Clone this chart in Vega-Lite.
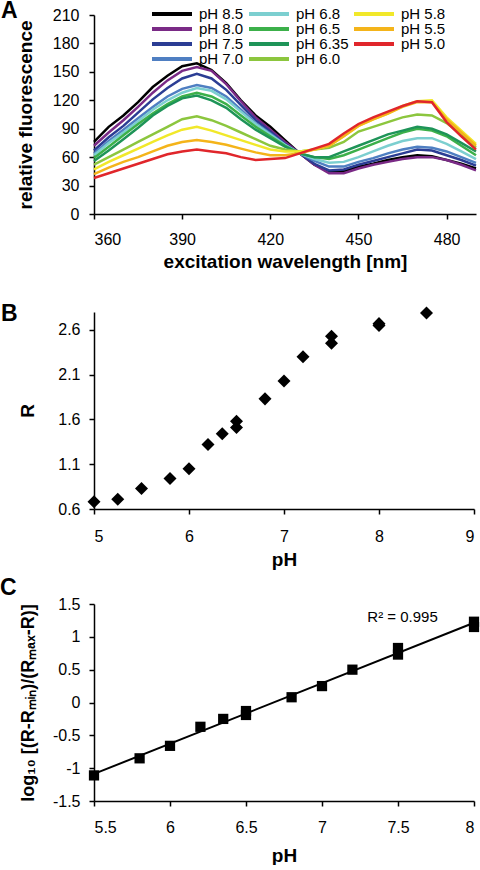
{
"$schema": "https://vega.github.io/schema/vega-lite/v6.json",
"padding": {"left": 0, "top": 0, "right": 0, "bottom": 0},
"background": "white",
"spacing": 32,
"config": {
  "view": {"stroke": null},
  "font": "Liberation Sans",
  "axis": {"grid": false, "labelOverlap": false, "domainColor": "#000", "domainWidth": 1.5, "tickColor": "#000", "tickWidth": 1.5, "tickSize": 5, "labelColor": "#000", "labelFont": "Liberation Sans", "labelFontSize": 16, "titleFont": "Liberation Sans", "titleFontSize": 19, "titleFontWeight": "bold", "titleColor": "#000", "labelPadding": 9},
  "title": {"font": "Liberation Sans", "fontSize": 23, "fontWeight": "bold", "anchor": "start", "frame": "group", "color": "#000"}
},
"vconcat": [
{
  "width": 382, "height": 199,
  "title": {"text": "A", "dx": -93, "offset": -16},
  "data": {"values": [
{"s":"pH 8.5","nm":360,"f":76},{"s":"pH 8.5","nm":365,"f":92},{"s":"pH 8.5","nm":370,"f":104},{"s":"pH 8.5","nm":375,"f":118},{"s":"pH 8.5","nm":380,"f":134},{"s":"pH 8.5","nm":385,"f":146},{"s":"pH 8.5","nm":390,"f":156},{"s":"pH 8.5","nm":395,"f":159},{"s":"pH 8.5","nm":400,"f":152},{"s":"pH 8.5","nm":405,"f":138},{"s":"pH 8.5","nm":410,"f":120},{"s":"pH 8.5","nm":415,"f":104},{"s":"pH 8.5","nm":420,"f":92},{"s":"pH 8.5","nm":425,"f":78},{"s":"pH 8.5","nm":430,"f":64},{"s":"pH 8.5","nm":435,"f":52},{"s":"pH 8.5","nm":440,"f":45},{"s":"pH 8.5","nm":445,"f":45},{"s":"pH 8.5","nm":450,"f":50},{"s":"pH 8.5","nm":455,"f":53},{"s":"pH 8.5","nm":460,"f":57},{"s":"pH 8.5","nm":465,"f":60},{"s":"pH 8.5","nm":470,"f":62},{"s":"pH 8.5","nm":475,"f":61},{"s":"pH 8.5","nm":480,"f":57},{"s":"pH 8.5","nm":485,"f":53},{"s":"pH 8.5","nm":490,"f":48},
{"s":"pH 8.0","nm":360,"f":72},{"s":"pH 8.0","nm":365,"f":86},{"s":"pH 8.0","nm":370,"f":99},{"s":"pH 8.0","nm":375,"f":113},{"s":"pH 8.0","nm":380,"f":128},{"s":"pH 8.0","nm":385,"f":141},{"s":"pH 8.0","nm":390,"f":151},{"s":"pH 8.0","nm":395,"f":155},{"s":"pH 8.0","nm":400,"f":151},{"s":"pH 8.0","nm":405,"f":137},{"s":"pH 8.0","nm":410,"f":119},{"s":"pH 8.0","nm":415,"f":102},{"s":"pH 8.0","nm":420,"f":89},{"s":"pH 8.0","nm":425,"f":76},{"s":"pH 8.0","nm":430,"f":64},{"s":"pH 8.0","nm":435,"f":52},{"s":"pH 8.0","nm":440,"f":43},{"s":"pH 8.0","nm":445,"f":43},{"s":"pH 8.0","nm":450,"f":48},{"s":"pH 8.0","nm":455,"f":52},{"s":"pH 8.0","nm":460,"f":55},{"s":"pH 8.0","nm":465,"f":58},{"s":"pH 8.0","nm":470,"f":60},{"s":"pH 8.0","nm":475,"f":60},{"s":"pH 8.0","nm":480,"f":57},{"s":"pH 8.0","nm":485,"f":52},{"s":"pH 8.0","nm":490,"f":46},
{"s":"pH 7.5","nm":360,"f":67},{"s":"pH 7.5","nm":365,"f":81},{"s":"pH 7.5","nm":370,"f":93},{"s":"pH 7.5","nm":375,"f":107},{"s":"pH 7.5","nm":380,"f":121},{"s":"pH 7.5","nm":385,"f":133},{"s":"pH 7.5","nm":390,"f":143},{"s":"pH 7.5","nm":395,"f":148},{"s":"pH 7.5","nm":400,"f":143},{"s":"pH 7.5","nm":405,"f":131},{"s":"pH 7.5","nm":410,"f":115},{"s":"pH 7.5","nm":415,"f":99},{"s":"pH 7.5","nm":420,"f":87},{"s":"pH 7.5","nm":425,"f":74},{"s":"pH 7.5","nm":430,"f":64},{"s":"pH 7.5","nm":435,"f":53},{"s":"pH 7.5","nm":440,"f":46},{"s":"pH 7.5","nm":445,"f":47},{"s":"pH 7.5","nm":450,"f":52},{"s":"pH 7.5","nm":455,"f":56},{"s":"pH 7.5","nm":460,"f":60},{"s":"pH 7.5","nm":465,"f":64},{"s":"pH 7.5","nm":470,"f":68},{"s":"pH 7.5","nm":475,"f":67},{"s":"pH 7.5","nm":480,"f":62},{"s":"pH 7.5","nm":485,"f":57},{"s":"pH 7.5","nm":490,"f":51},
{"s":"pH 7.0","nm":360,"f":64},{"s":"pH 7.0","nm":365,"f":77},{"s":"pH 7.0","nm":370,"f":89},{"s":"pH 7.0","nm":375,"f":101},{"s":"pH 7.0","nm":380,"f":113},{"s":"pH 7.0","nm":385,"f":124},{"s":"pH 7.0","nm":390,"f":132},{"s":"pH 7.0","nm":395,"f":136},{"s":"pH 7.0","nm":400,"f":133},{"s":"pH 7.0","nm":405,"f":124},{"s":"pH 7.0","nm":410,"f":110},{"s":"pH 7.0","nm":415,"f":96},{"s":"pH 7.0","nm":420,"f":85},{"s":"pH 7.0","nm":425,"f":73},{"s":"pH 7.0","nm":430,"f":64},{"s":"pH 7.0","nm":435,"f":56},{"s":"pH 7.0","nm":440,"f":50},{"s":"pH 7.0","nm":445,"f":50},{"s":"pH 7.0","nm":450,"f":55},{"s":"pH 7.0","nm":455,"f":59},{"s":"pH 7.0","nm":460,"f":64},{"s":"pH 7.0","nm":465,"f":68},{"s":"pH 7.0","nm":470,"f":71},{"s":"pH 7.0","nm":475,"f":70},{"s":"pH 7.0","nm":480,"f":66},{"s":"pH 7.0","nm":485,"f":60},{"s":"pH 7.0","nm":490,"f":54},
{"s":"pH 6.8","nm":360,"f":62},{"s":"pH 6.8","nm":365,"f":75},{"s":"pH 6.8","nm":370,"f":86},{"s":"pH 6.8","nm":375,"f":98},{"s":"pH 6.8","nm":380,"f":110},{"s":"pH 6.8","nm":385,"f":120},{"s":"pH 6.8","nm":390,"f":128},{"s":"pH 6.8","nm":395,"f":133},{"s":"pH 6.8","nm":400,"f":130},{"s":"pH 6.8","nm":405,"f":121},{"s":"pH 6.8","nm":410,"f":108},{"s":"pH 6.8","nm":415,"f":95},{"s":"pH 6.8","nm":420,"f":84},{"s":"pH 6.8","nm":425,"f":73},{"s":"pH 6.8","nm":430,"f":64},{"s":"pH 6.8","nm":435,"f":58},{"s":"pH 6.8","nm":440,"f":54},{"s":"pH 6.8","nm":445,"f":55},{"s":"pH 6.8","nm":450,"f":60},{"s":"pH 6.8","nm":455,"f":66},{"s":"pH 6.8","nm":460,"f":72},{"s":"pH 6.8","nm":465,"f":77},{"s":"pH 6.8","nm":470,"f":80},{"s":"pH 6.8","nm":475,"f":80},{"s":"pH 6.8","nm":480,"f":74},{"s":"pH 6.8","nm":485,"f":66},{"s":"pH 6.8","nm":490,"f":58},
{"s":"pH 6.5","nm":360,"f":59},{"s":"pH 6.5","nm":365,"f":71},{"s":"pH 6.5","nm":370,"f":83},{"s":"pH 6.5","nm":375,"f":95},{"s":"pH 6.5","nm":380,"f":106},{"s":"pH 6.5","nm":385,"f":116},{"s":"pH 6.5","nm":390,"f":124},{"s":"pH 6.5","nm":395,"f":128},{"s":"pH 6.5","nm":400,"f":124},{"s":"pH 6.5","nm":405,"f":116},{"s":"pH 6.5","nm":410,"f":104},{"s":"pH 6.5","nm":415,"f":92},{"s":"pH 6.5","nm":420,"f":82},{"s":"pH 6.5","nm":425,"f":72},{"s":"pH 6.5","nm":430,"f":64},{"s":"pH 6.5","nm":435,"f":60},{"s":"pH 6.5","nm":440,"f":58},{"s":"pH 6.5","nm":445,"f":62},{"s":"pH 6.5","nm":450,"f":68},{"s":"pH 6.5","nm":455,"f":74},{"s":"pH 6.5","nm":460,"f":80},{"s":"pH 6.5","nm":465,"f":86},{"s":"pH 6.5","nm":470,"f":90},{"s":"pH 6.5","nm":475,"f":88},{"s":"pH 6.5","nm":480,"f":82},{"s":"pH 6.5","nm":485,"f":72},{"s":"pH 6.5","nm":490,"f":62},
{"s":"pH 6.35","nm":360,"f":56},{"s":"pH 6.35","nm":365,"f":67},{"s":"pH 6.35","nm":370,"f":79},{"s":"pH 6.35","nm":375,"f":91},{"s":"pH 6.35","nm":380,"f":104},{"s":"pH 6.35","nm":385,"f":114},{"s":"pH 6.35","nm":390,"f":122},{"s":"pH 6.35","nm":395,"f":125},{"s":"pH 6.35","nm":400,"f":120},{"s":"pH 6.35","nm":405,"f":112},{"s":"pH 6.35","nm":410,"f":100},{"s":"pH 6.35","nm":415,"f":89},{"s":"pH 6.35","nm":420,"f":80},{"s":"pH 6.35","nm":425,"f":71},{"s":"pH 6.35","nm":430,"f":64},{"s":"pH 6.35","nm":435,"f":60},{"s":"pH 6.35","nm":440,"f":60},{"s":"pH 6.35","nm":445,"f":66},{"s":"pH 6.35","nm":450,"f":72},{"s":"pH 6.35","nm":455,"f":78},{"s":"pH 6.35","nm":460,"f":84},{"s":"pH 6.35","nm":465,"f":88},{"s":"pH 6.35","nm":470,"f":92},{"s":"pH 6.35","nm":475,"f":90},{"s":"pH 6.35","nm":480,"f":84},{"s":"pH 6.35","nm":485,"f":75},{"s":"pH 6.35","nm":490,"f":66},
{"s":"pH 6.0","nm":360,"f":52},{"s":"pH 6.0","nm":365,"f":60},{"s":"pH 6.0","nm":370,"f":68},{"s":"pH 6.0","nm":375,"f":76},{"s":"pH 6.0","nm":380,"f":84},{"s":"pH 6.0","nm":385,"f":92},{"s":"pH 6.0","nm":390,"f":100},{"s":"pH 6.0","nm":395,"f":103},{"s":"pH 6.0","nm":400,"f":99},{"s":"pH 6.0","nm":405,"f":93},{"s":"pH 6.0","nm":410,"f":86},{"s":"pH 6.0","nm":415,"f":79},{"s":"pH 6.0","nm":420,"f":72},{"s":"pH 6.0","nm":425,"f":68},{"s":"pH 6.0","nm":430,"f":66},{"s":"pH 6.0","nm":435,"f":68},{"s":"pH 6.0","nm":440,"f":70},{"s":"pH 6.0","nm":445,"f":76},{"s":"pH 6.0","nm":450,"f":87},{"s":"pH 6.0","nm":455,"f":92},{"s":"pH 6.0","nm":460,"f":97},{"s":"pH 6.0","nm":465,"f":102},{"s":"pH 6.0","nm":470,"f":105},{"s":"pH 6.0","nm":475,"f":104},{"s":"pH 6.0","nm":480,"f":96},{"s":"pH 6.0","nm":485,"f":84},{"s":"pH 6.0","nm":490,"f":70},
{"s":"pH 5.8","nm":360,"f":47},{"s":"pH 5.8","nm":365,"f":55},{"s":"pH 5.8","nm":370,"f":62},{"s":"pH 5.8","nm":375,"f":69},{"s":"pH 5.8","nm":380,"f":76},{"s":"pH 5.8","nm":385,"f":83},{"s":"pH 5.8","nm":390,"f":89},{"s":"pH 5.8","nm":395,"f":92},{"s":"pH 5.8","nm":400,"f":88},{"s":"pH 5.8","nm":405,"f":83},{"s":"pH 5.8","nm":410,"f":78},{"s":"pH 5.8","nm":415,"f":73},{"s":"pH 5.8","nm":420,"f":68},{"s":"pH 5.8","nm":425,"f":66},{"s":"pH 5.8","nm":430,"f":66},{"s":"pH 5.8","nm":435,"f":68},{"s":"pH 5.8","nm":440,"f":72},{"s":"pH 5.8","nm":445,"f":82},{"s":"pH 5.8","nm":450,"f":93},{"s":"pH 5.8","nm":455,"f":100},{"s":"pH 5.8","nm":460,"f":106},{"s":"pH 5.8","nm":465,"f":114},{"s":"pH 5.8","nm":470,"f":119},{"s":"pH 5.8","nm":475,"f":120},{"s":"pH 5.8","nm":480,"f":102},{"s":"pH 5.8","nm":485,"f":88},{"s":"pH 5.8","nm":490,"f":74},
{"s":"pH 5.5","nm":360,"f":42},{"s":"pH 5.5","nm":365,"f":49},{"s":"pH 5.5","nm":370,"f":55},{"s":"pH 5.5","nm":375,"f":60},{"s":"pH 5.5","nm":380,"f":66},{"s":"pH 5.5","nm":385,"f":72},{"s":"pH 5.5","nm":390,"f":76},{"s":"pH 5.5","nm":395,"f":78},{"s":"pH 5.5","nm":400,"f":76},{"s":"pH 5.5","nm":405,"f":73},{"s":"pH 5.5","nm":410,"f":69},{"s":"pH 5.5","nm":415,"f":65},{"s":"pH 5.5","nm":420,"f":62},{"s":"pH 5.5","nm":425,"f":62},{"s":"pH 5.5","nm":430,"f":64},{"s":"pH 5.5","nm":435,"f":68},{"s":"pH 5.5","nm":440,"f":72},{"s":"pH 5.5","nm":445,"f":82},{"s":"pH 5.5","nm":450,"f":93},{"s":"pH 5.5","nm":455,"f":100},{"s":"pH 5.5","nm":460,"f":106},{"s":"pH 5.5","nm":465,"f":113},{"s":"pH 5.5","nm":470,"f":118},{"s":"pH 5.5","nm":475,"f":118},{"s":"pH 5.5","nm":480,"f":100},{"s":"pH 5.5","nm":485,"f":86},{"s":"pH 5.5","nm":490,"f":72},
{"s":"pH 5.0","nm":360,"f":38},{"s":"pH 5.0","nm":365,"f":43},{"s":"pH 5.0","nm":370,"f":48},{"s":"pH 5.0","nm":375,"f":53},{"s":"pH 5.0","nm":380,"f":58},{"s":"pH 5.0","nm":385,"f":63},{"s":"pH 5.0","nm":390,"f":66},{"s":"pH 5.0","nm":395,"f":68},{"s":"pH 5.0","nm":400,"f":66},{"s":"pH 5.0","nm":405,"f":64},{"s":"pH 5.0","nm":410,"f":60},{"s":"pH 5.0","nm":415,"f":57},{"s":"pH 5.0","nm":420,"f":58},{"s":"pH 5.0","nm":425,"f":59},{"s":"pH 5.0","nm":430,"f":64},{"s":"pH 5.0","nm":435,"f":69},{"s":"pH 5.0","nm":440,"f":74},{"s":"pH 5.0","nm":445,"f":85},{"s":"pH 5.0","nm":450,"f":95},{"s":"pH 5.0","nm":455,"f":102},{"s":"pH 5.0","nm":460,"f":108},{"s":"pH 5.0","nm":465,"f":114},{"s":"pH 5.0","nm":470,"f":119},{"s":"pH 5.0","nm":475,"f":118},{"s":"pH 5.0","nm":480,"f":97},{"s":"pH 5.0","nm":485,"f":82},{"s":"pH 5.0","nm":490,"f":68}
  ]},
  "mark": {"type": "line", "strokeWidth": 2.5},
  "encoding": {
    "x": {"field": "nm", "type": "quantitative", "scale": {"domain": [360, 490], "nice": false}, "axis": {"values": [360, 390, 420, 450, 480], "tickCount": 20, "format": "d", "title": "excitation wavelength [nm]", "labelPadding": 12, "titlePadding": 5}},
    "y": {"field": "f", "type": "quantitative", "scale": {"domain": [0, 210], "nice": false}, "axis": {"values": [0, 30, 60, 90, 120, 150, 180, 210], "tickCount": 20, "format": "d", "title": "relative fluorescence", "labelPadding": 10, "titlePadding": 17}},
    "color": {"field": "s", "type": "nominal",
      "scale": {"domain": ["pH 8.5","pH 8.0","pH 7.5","pH 7.0","pH 6.8","pH 6.5","pH 6.35","pH 6.0","pH 5.8","pH 5.5","pH 5.0"],
                "range": ["#000000","#7a2a86","#2b3d94","#4f7fc2","#7ccfd0","#3cb04a","#1e9458","#8cc63e","#f1e82a","#f4b41a","#e0262b"]},
      "legend": {"orient": "none", "legendX": 56, "legendY": -8, "columns": 3, "title": null, "symbolType": "stroke", "symbolSize": 1600, "symbolStrokeWidth": 4, "labelFontSize": 15, "labelFont": "Liberation Sans", "labelColor": "#000", "labelOffset": 5, "rowPadding": -1, "clipHeight": 14, "columnPadding": 3, "padding": 0, "labelLimit": 200}}
  }
},
{
  "spacing": 8,
  "vconcat": [
  {
    "width": 380, "height": 197,
    "title": {"text": "B", "dx": -93, "offset": -20},
    "data": {"values": [
      {"pH":5.0,"R":0.68},{"pH":5.25,"R":0.71},{"pH":5.5,"R":0.83},{"pH":5.8,"R":0.94},{"pH":6.0,"R":1.05},{"pH":6.2,"R":1.32},{"pH":6.35,"R":1.44},{"pH":6.5,"R":1.58},{"pH":6.5,"R":1.51},{"pH":6.8,"R":1.83},{"pH":7.0,"R":2.03},{"pH":7.2,"R":2.30},{"pH":7.5,"R":2.53},{"pH":7.5,"R":2.45},{"pH":8.0,"R":2.67},{"pH":8.0,"R":2.65},{"pH":8.5,"R":2.79}
    ]},
    "mark": {"type": "point", "shape": "diamond", "filled": true, "color": "#000", "size": 170, "opacity": 1},
    "encoding": {
      "x": {"field": "pH", "type": "quantitative", "scale": {"domain": [5, 9], "nice": false}, "axis": {"values": [5, 6, 7, 8, 9], "tickCount": 20, "format": "d", "title": "pH", "labelPadding": 14, "titlePadding": 6}},
      "y": {"field": "R", "type": "quantitative", "scale": {"domain": [0.6, 2.8], "nice": false, "zero": false}, "axis": {"values": [0.6, 1.1, 1.6, 2.1, 2.6], "tickCount": 20, "format": ".1f", "title": "R", "labelPadding": 9, "titlePadding": 20}}
    }
  },
  {
    "width": 380, "height": 197,
    "title": {"text": "C", "dx": -94, "offset": -4},
    "data": {"values": [
      {"pH":5.5,"v":-1.11},{"pH":5.8,"v":-0.85},{"pH":6.0,"v":-0.66},{"pH":6.2,"v":-0.37},{"pH":6.35,"v":-0.25},{"pH":6.5,"v":-0.13},{"pH":6.5,"v":-0.19},{"pH":6.8,"v":0.08},{"pH":7.0,"v":0.25},{"pH":7.2,"v":0.5},{"pH":7.5,"v":0.83},{"pH":7.5,"v":0.73},{"pH":8.0,"v":1.23},{"pH":8.0,"v":1.15}
    ]},
    "encoding": {
      "x": {"field": "pH", "type": "quantitative", "scale": {"domain": [5.5, 8], "nice": false, "zero": false}, "axis": {"values": [5.5, 6, 6.5, 7, 7.5, 8], "tickCount": 20, "format": "~g", "title": "pH", "labelPadding": 13, "titlePadding": 11}},
      "y": {"field": "v", "type": "quantitative", "scale": {"domain": [-1.5, 1.5], "nice": false}, "axis": {"values": [-1.5, -1, -0.5, 0, 0.5, 1, 1.5], "tickCount": 20, "labelOverlap": false, "labelExpr": "datum.value == 0 ? '0' : ((datum.value < 0 ? '-' : '') + toString(abs(datum.value)))", "title": "log₁₀ [(R-Rₘᵢₙ)/(Rₘₐₓ-R)]", "titleFontSize": 18, "labelPadding": 9, "titlePadding": 15}}
    },
    "layer": [
      {"transform": [{"regression": "v", "on": "pH"}],
       "mark": {"type": "line", "color": "#000", "strokeWidth": 2}},
      {"mark": {"type": "square", "filled": true, "color": "#000", "size": 105, "opacity": 1}},
      {"data": {"values": [{"pH": 7.53, "v": 1.3, "label": "R² = 0.995"}]},
       "mark": {"type": "text", "fontSize": 15, "font": "Liberation Sans", "color": "#000", "align": "center", "baseline": "middle"},
       "encoding": {
         "text": {"field": "label"}
       }}
    ]
  }
  ]
}
]
}
